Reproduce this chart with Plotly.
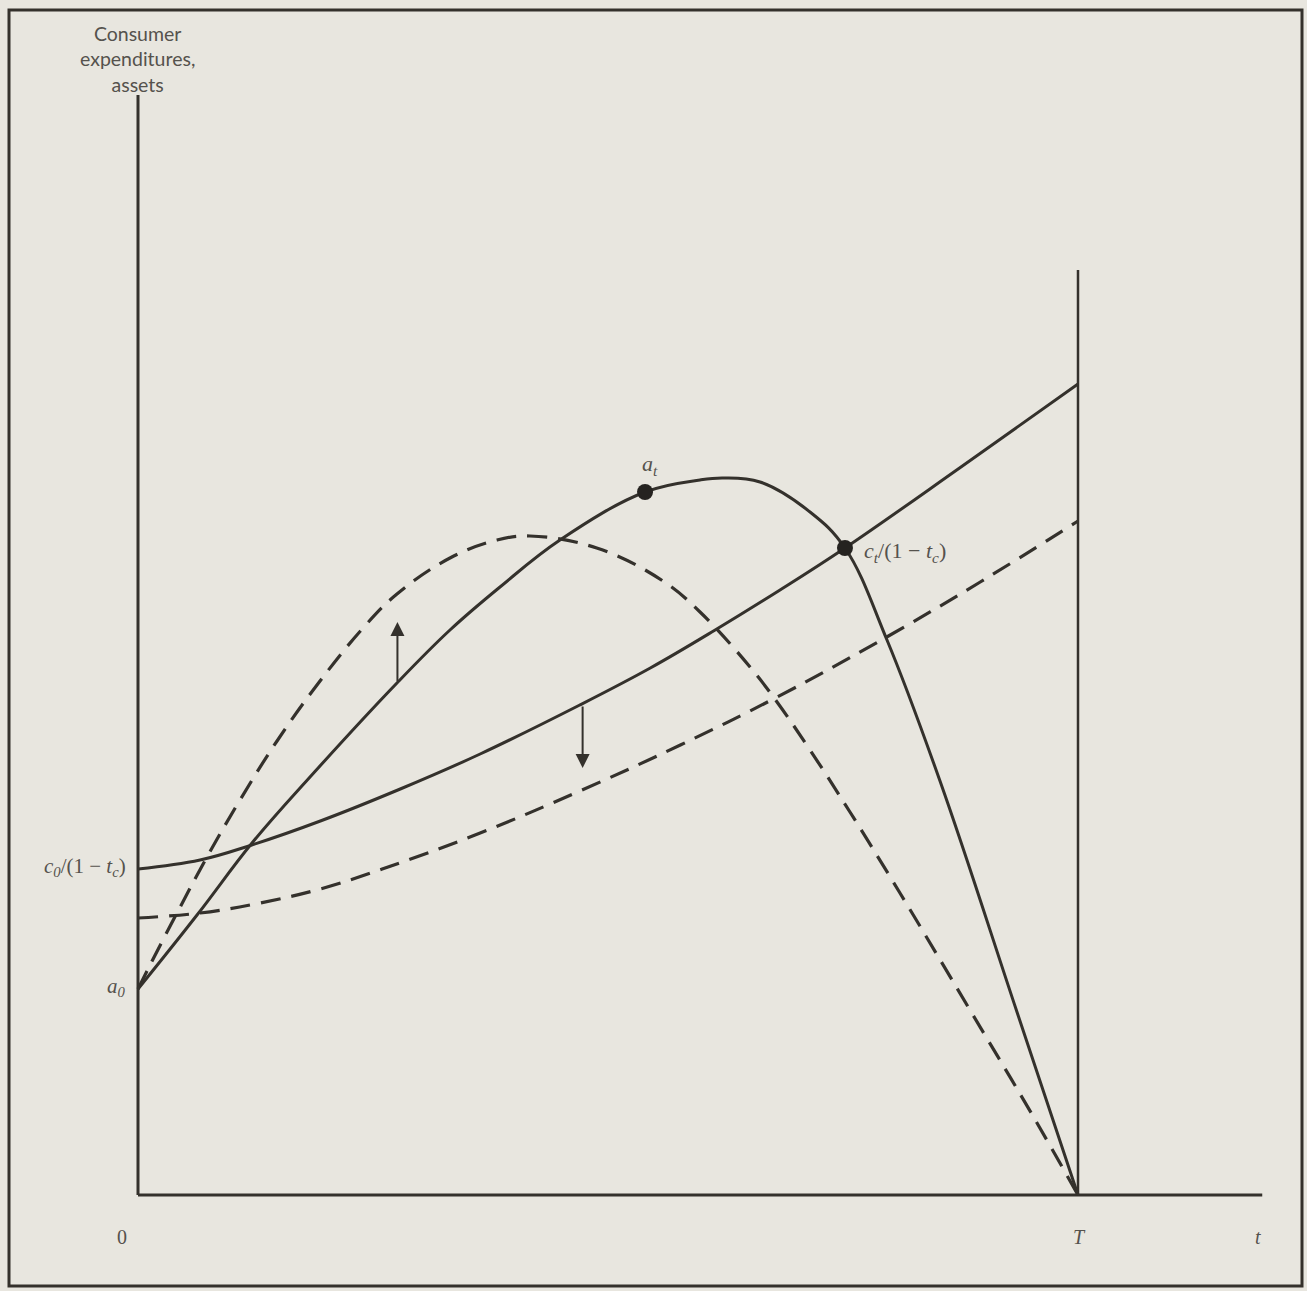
import plotly.graph_objects as go

# Horizontal axis: time t, lifetime ends at T = 100
T = 100.0
t_axis_end = 119.6
y_axis_top = 110.0
a0 = 20.6

# Assets path before the change (solid)
t_assets = [0, 6.28, 12.13, 18.30, 27.55, 33.19, 38.51, 44.89, 53.94, 59.79, 62.23, 66.17, 71.49, 75.21,
            79.68, 85.32, 93.51, 100]
assets = [a0, 28.0, 35.2, 41.8, 51.2, 56.5, 60.8, 65.5, 70.3, 71.5, 71.7, 71.3, 68.3, 64.7,
          55.5, 41.4, 18.3, 0.0]

# Consumer expenditures c/(1 - t_c) before the change (solid)
t_cons = [0, 6.6, 12.1, 19.4, 27.9, 36.4, 47.0, 54.5, 61.4, 68.3, 75.21, 87.4, 100]
cons = [32.6, 33.5, 35.0, 37.4, 40.6, 44.1, 49.0, 52.7, 56.5, 60.5, 64.7, 72.7, 81.1]

# Assets path after the change (dashed)
t_assets_new = [0, 1.28, 4.15, 7.34, 10.85, 14.79, 19.04, 23.94, 27.55, 33.19, 38.19, 41.70, 48.80,
                55.85, 59.79, 65.11, 67.98, 71.49, 75.74, 81.06, 88.19, 95.21, 100]
assets_new = [a0, 23.0, 28.2, 33.8, 39.5, 45.4, 51.0, 56.7, 60.1, 63.7, 65.5, 65.9, 64.7,
              61.4, 58.3, 52.8, 49.3, 44.5, 38.3, 30.2, 19.0, 7.9, 0.0]

# Consumer expenditures after the change (dashed)
t_cons_new = [0, 6.6, 13.0, 19.4, 25.7, 36.4, 47.0, 57.7, 68.0, 78.9, 89.6, 100]
cons_new = [27.7, 28.2, 29.2, 30.6, 32.5, 36.2, 40.4, 45.0, 49.8, 55.4, 61.3, 67.4]

# Marked points on the solid assets path
t_marks = [53.94, 75.21]
y_marks = [70.3, 64.7]

# Shift arrows: (t, from, to)
arrow_up = (27.6, 51.2, 57.3)
arrow_down = (47.3, 49.0, 42.7)

INK = "#34312c"
TEXT = "#55524d"
BG = "#e8e6df"
SERIF = "Liberation Serif"
SANS = "Lato"
SMOOTH = 1.1

fig = go.Figure()

# Axes and the terminal line at T
fig.add_trace(go.Scatter(x=[0, 0], y=[0, y_axis_top], mode="lines",
                         line=dict(color=INK, width=3), hoverinfo="skip"))
fig.add_trace(go.Scatter(x=[0, t_axis_end], y=[0, 0], mode="lines",
                         line=dict(color=INK, width=3), hoverinfo="skip"))
fig.add_trace(go.Scatter(x=[T, T], y=[0, 92.5], mode="lines",
                         line=dict(color=INK, width=2.5), hoverinfo="skip"))

# Curves
fig.add_trace(go.Scatter(x=t_cons_new, y=cons_new, mode="lines",
                         line=dict(color=INK, width=3.2, dash="20px,11px", shape="spline", smoothing=SMOOTH)))
fig.add_trace(go.Scatter(x=t_assets_new, y=assets_new, mode="lines",
                         line=dict(color=INK, width=3.2, dash="20px,11px", shape="spline", smoothing=SMOOTH)))
fig.add_trace(go.Scatter(x=t_cons, y=cons, mode="lines",
                         line=dict(color=INK, width=3, shape="spline", smoothing=SMOOTH)))
fig.add_trace(go.Scatter(x=t_assets, y=assets, mode="lines",
                         line=dict(color=INK, width=3, shape="spline", smoothing=SMOOTH)))

fig.add_trace(go.Scatter(x=t_marks, y=y_marks, mode="markers",
                         marker=dict(color="#252320", size=16)))

# Shift arrows
for (tx, y0, y1) in (arrow_up, arrow_down):
    fig.add_annotation(x=tx, y=y1, ax=tx, ay=y0, xref="x", yref="y", axref="x", ayref="y",
                       showarrow=True, arrowhead=2, arrowsize=1.4, arrowwidth=2,
                       arrowcolor=INK, text="")

labels = [
    # (x, y, text, xanchor, font, size)
    (53.9 + 0.6, 73.0, "<i>a</i><sub><i>t</i></sub>", "center", SERIF, 22),
    (77.0, 64.3, "<i>c</i><sub><i>t</i></sub>/(1 − <i>t</i><sub><i>c</i></sub>)", "left", SERIF, 22),
    (-1.1, 32.8, "<i>c</i><sub><i>0</i></sub>/(1 − <i>t</i><sub><i>c</i></sub>)", "right", SERIF, 21),
    (-1.1, 20.8, "<i>a</i><sub><i>0</i></sub>", "right", SERIF, 21),
    (-1.7, -4.2, "0", "center", SERIF, 20),
    (T + 0.2, -4.2, "<i>T</i>", "center", SERIF, 20),
    (119.2, -4.2, "<i>t</i>", "center", SERIF, 20),
]
for (lx, ly, txt, xa, fam, sz) in labels:
    fig.add_annotation(x=lx, y=ly, xref="x", yref="y", text=txt, showarrow=False,
                       xanchor=xa, yanchor="middle", font=dict(family=fam, size=sz, color=TEXT))

fig.add_annotation(x=-0.1, y=y_axis_top - 0.3, xref="x", yref="y",
                   text="Consumer<br>expenditures,<br>assets", showarrow=False,
                   xanchor="center", yanchor="bottom", align="center",
                   font=dict(family=SANS, size=19.5, color=TEXT))

# Outer frame
fig.add_shape(type="rect", xref="paper", yref="paper",
              x0=9 / 1307, x1=1302 / 1307, y0=1 - 1286 / 1291, y1=1 - 10 / 1291,
              line=dict(color=INK, width=3), fillcolor="rgba(0,0,0,0)", layer="below")

W, H = 1307, 1291
fig.update_layout(
    width=W, height=H,
    margin=dict(l=0, r=0, t=0, b=0),
    paper_bgcolor=BG, plot_bgcolor=BG,
    showlegend=False,
    xaxis=dict(range=[-138 / 9.4, (W - 138) / 9.4], visible=False, fixedrange=True),
    yaxis=dict(range=[(1195 - H) / 10, 1195 / 10], visible=False, fixedrange=True),
)

fig.write_html("out.html")
